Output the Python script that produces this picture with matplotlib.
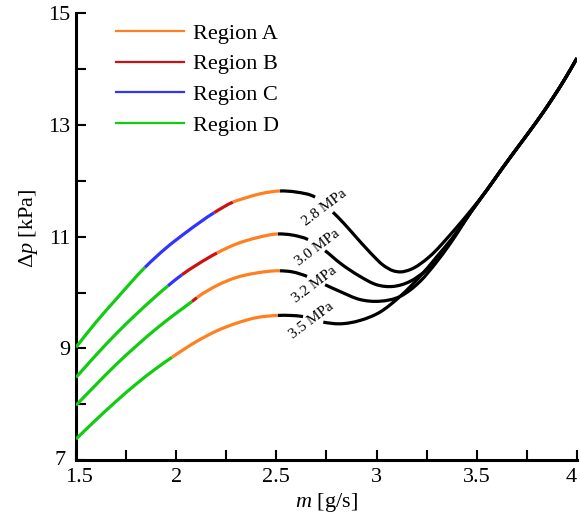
import matplotlib
matplotlib.use("Agg")
import matplotlib.pyplot as plt
from matplotlib.lines import Line2D
from matplotlib.path import Path
from matplotlib.patches import PathPatch
from matplotlib.ticker import FixedLocator, MultipleLocator, FuncFormatter
import matplotlib.transforms as mtransforms

plt.rcParams["font.family"] = ["Liberation Serif", "DejaVu Serif"]
plt.rcParams["mathtext.fontset"] = "custom"
plt.rcParams["mathtext.rm"] = "Liberation Serif"
plt.rcParams["mathtext.it"] = "Liberation Serif:italic"

# Pressure drop vs. mass flow rate for four system pressures
m_28 = [1.50, 1.60, 1.70, 1.844, 1.95, 2.05, 2.189, 2.283, 2.35, 2.42, 2.518, 2.60, 2.693,
        2.782, 2.834, 2.884, 2.967, 3.033, 3.083, 3.12, 3.167, 3.266, 3.366, 3.40, 3.47,
        3.551, 3.63, 3.716, 3.80, 3.88, 3.94, 4.00]
dp_28 = [9.02, 9.47, 9.88, 10.45, 10.80, 11.08, 11.43, 11.62, 11.70, 11.77, 11.82, 11.80, 11.71,
         11.44, 11.25, 11.05, 10.72, 10.49, 10.39, 10.37, 10.41, 10.65, 11.03, 11.17, 11.47,
         11.84, 12.24, 12.66, 13.07, 13.49, 13.83, 14.20]

m_30 = [1.50, 1.60, 1.70, 1.80, 1.959, 2.029, 2.10, 2.204, 2.30, 2.40, 2.508, 2.58, 2.658,
        2.743, 2.817, 2.917, 3.00, 3.083, 3.167, 3.25, 3.32, 3.40, 3.47,
        3.551, 3.63, 3.716, 3.80, 3.88, 3.94, 4.00]
dp_30 = [8.48, 8.88, 9.26, 9.61, 10.12, 10.32, 10.49, 10.71, 10.87, 10.98, 11.05, 11.03, 10.95,
         10.75, 10.53, 10.29, 10.14, 10.11, 10.20, 10.41, 10.68, 11.08, 11.44,
         11.84, 12.24, 12.66, 13.07, 13.49, 13.83, 14.20]

m_32 = [1.50, 1.60, 1.70, 1.80, 1.90, 2.00, 2.079, 2.104, 2.20, 2.30, 2.40, 2.518, 2.58, 2.653,
        2.743, 2.817, 2.917, 3.017, 3.117, 3.217, 3.30, 3.36, 3.40, 3.47,
        3.551, 3.63, 3.716, 3.80, 3.88, 3.94, 4.00]
dp_32 = [7.98, 8.35, 8.71, 9.04, 9.35, 9.63, 9.84, 9.91, 10.12, 10.27, 10.35, 10.39, 10.37, 10.29,
         10.14, 10.02, 9.875, 9.845, 9.93, 10.20, 10.55, 10.84, 11.05, 11.44,
         11.84, 12.24, 12.66, 13.07, 13.49, 13.83, 14.20]

m_35 = [1.50, 1.60, 1.70, 1.80, 1.90, 1.979, 2.10, 2.20, 2.30, 2.40, 2.508, 2.57, 2.633,
        2.734, 2.817, 2.917, 3.017, 3.117, 3.217, 3.30, 3.40, 3.47,
        3.551, 3.63, 3.716, 3.80, 3.88, 3.94, 4.00]
dp_35 = [7.375, 7.72, 8.05, 8.36, 8.64, 8.84, 9.12, 9.31, 9.45, 9.55, 9.59, 9.59, 9.57,
         9.47, 9.44, 9.50, 9.65, 9.93, 10.29, 10.64, 11.08, 11.44,
         11.84, 12.24, 12.66, 13.07, 13.49, 13.83, 14.20]

# Flow-regime regions along each curve: (region, end of region in m)
regions_28 = [("D", 1.844), ("C", 2.189), ("B", 2.283), ("A", 2.518)]
regions_30 = [("D", 1.959), ("C", 2.029), ("B", 2.204), ("A", 2.508)]
regions_32 = [("D", 2.079), ("B", 2.104), ("A", 2.518)]
regions_35 = [("D", 1.979), ("A", 2.508)]

pressure_labels = ["2.8 MPa", "3.0 MPa", "3.2 MPa", "3.5 MPa"]
legend_labels = ["Region A", "Region B", "Region C", "Region D"]
x_ticks = [1.5, 2.0, 2.5, 3.0, 3.5, 4.0]
y_ticks = [7, 9, 11, 13, 15]
y_minor = [8, 10, 12, 14]

region_colors = {"A": "#ff8020", "B": "#cc1111", "C": "#3333ff", "D": "#11cc11"}

# inline label placement (m, dp) for each pressure curve
label_pos = [(2.738, 11.52), (2.705, 10.81), (2.690, 10.15), (2.676, 9.50)]

curves = [(m_28, dp_28, regions_28), (m_30, dp_30, regions_30),
          (m_32, dp_32, regions_32), (m_35, dp_35, regions_35)]


def slopes(x, y):
    """Three-point derivative estimate at each sample."""
    n = len(x)
    d = [(y[i + 1] - y[i]) / (x[i + 1] - x[i]) for i in range(n - 1)]
    s = [d[0]]
    for i in range(1, n - 1):
        h0, h1 = x[i] - x[i - 1], x[i + 1] - x[i]
        s.append((d[i - 1] * h1 + d[i] * h0) / (h0 + h1))
    s.append(d[-1])
    return s


def smooth_path(x, y, s, idx):
    """Cubic Hermite (Bezier) path through the samples listed in idx."""
    verts = [(x[idx[0]], y[idx[0]])]
    codes = [Path.MOVETO]
    for a, b in zip(idx[:-1], idx[1:]):
        h = x[b] - x[a]
        verts += [(x[a] + h / 3, y[a] + s[a] * h / 3),
                  (x[b] - h / 3, y[b] - s[b] * h / 3),
                  (x[b], y[b])]
        codes += [Path.CURVE4] * 3
    return Path(verts, codes)


fig = plt.figure(figsize=(5.81, 5.21), dpi=100)
ax = fig.add_axes([0.1308, 0.1171, 0.8623, 0.857])

LW = 2.3
for (m, dp, regions), text, (lx, ly) in zip(curves, pressure_labels, label_pos):
    s = slopes(m, dp)
    start = m[0]
    pieces = []
    for region, x_end in regions:
        idx = [i for i, x in enumerate(m) if start <= x <= x_end]
        pieces.append((idx, region_colors[region]))
        start = x_end
    # black branch beyond the peak, broken where the inline label sits
    pieces.append(([i for i, x in enumerate(m) if start <= x < lx], "black"))
    pieces.append(([i for i, x in enumerate(m) if x > lx], "black"))
    for idx, col in pieces:
        ax.add_patch(PathPatch(smooth_path(m, dp, s, idx), fill=False, edgecolor=col,
                               lw=LW, capstyle="butt", zorder=3))
    ax.text(lx, ly, text, rotation=37, rotation_mode="anchor", ha="center", va="center",
            fontsize=11, zorder=4)

handles = [Line2D([], [], color=region_colors[k], lw=1.6) for k in "ABCD"]
ax.legend(handles, legend_labels, loc="upper left", bbox_to_anchor=(0.08, 0.978),
          frameon=False, fontsize=16, handlelength=3.06, handletextpad=0.4,
          labelspacing=0.45, borderpad=0, borderaxespad=0)

ax.set_xlim(1.5, 4.0)
ax.set_ylim(7, 15)
ax.xaxis.set_major_locator(FixedLocator(x_ticks))
ax.xaxis.set_minor_locator(MultipleLocator(0.25))
ax.yaxis.set_major_locator(FixedLocator(y_ticks))
ax.yaxis.set_minor_locator(FixedLocator(y_minor))
ax.xaxis.set_major_formatter(FuncFormatter(lambda v, p: f"{v:g}"))
ax.yaxis.set_major_formatter(FuncFormatter(lambda v, p: f"{v:g}"))

for side in ("top", "right"):
    ax.spines[side].set_visible(False)
for side in ("left", "bottom"):
    ax.spines[side].set_linewidth(2.2)

ax.tick_params(which="both", direction="in", length=7.5, width=1.5, labelsize=16,
               top=False, right=False)
ax.tick_params(axis="x", pad=6)
ax.tick_params(axis="y", pad=4)

ax.set_xlabel("$\\mathit{m}$ [g/s]", fontsize=16, labelpad=3)
ax.set_ylabel("Δ$\\mathit{p}$ [kPa]", fontsize=16)
ax.yaxis.set_label_coords(-0.072, 0.52)

# nudge the corner and edge tick labels so they stay clear of each other and the canvas
fig.canvas.draw()


def nudge(label, dx_pt, dy_pt=0):
    label.set_transform(label.get_transform() +
                        mtransforms.ScaledTranslation(dx_pt / 72, dy_pt / 72,
                                                      fig.dpi_scale_trans))


nudge(ax.get_xticklabels()[-1], -4)
nudge(ax.get_xticklabels()[0], 2.5)
nudge(ax.get_yticklabels()[0], -3.5, 1.5)

fig.savefig("out.png", dpi=100)
